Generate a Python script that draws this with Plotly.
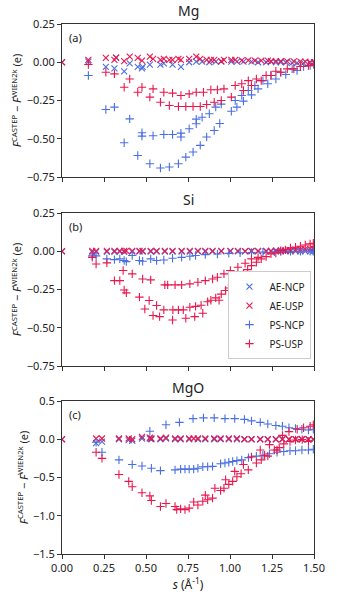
import plotly.graph_objects as go

# ---------------- DATA ----------------
# Mg
mg_aencp_s = [0.0, 0.157, 0.261, 0.312, 0.322, 0.370, 0.403, 0.451, 0.476, 0.480, 0.523, 0.586, 0.606, 0.658, 0.708, 0.757, 0.799, 0.834, 0.877, 0.915, 0.948, 1.008, 1.041, 1.080, 1.128, 1.167, 1.215, 1.244, 1.273, 1.302, 1.332, 1.370, 1.399, 1.438, 1.477, 1.500]
mg_aencp_f = [0.0, 0.004, -0.030, -0.040, 0.030, -0.060, -0.008, -0.030, -0.040, -0.030, -0.015, -0.015, -0.008, -0.015, -0.030, 0.000, 0.004, 0.004, 0.000, 0.004, 0.004, 0.004, 0.004, 0.004, 0.004, 0.000, 0.000, 0.004, 0.000, 0.000, 0.000, -0.004, -0.004, -0.004, -0.004, -0.004]
mg_aeusp_s = [0.0, 0.157, 0.261, 0.312, 0.322, 0.370, 0.403, 0.451, 0.476, 0.523, 0.542, 0.586, 0.606, 0.639, 0.658, 0.693, 0.708, 0.757, 0.799, 0.823, 0.861, 0.886, 0.906, 0.948, 0.964, 1.008, 1.031, 1.070, 1.109, 1.148, 1.186, 1.225, 1.244, 1.273, 1.302, 1.341, 1.380, 1.419, 1.448, 1.477, 1.500]
mg_aeusp_f = [0.0, 0.015, 0.028, 0.015, 0.030, 0.008, 0.037, 0.028, 0.010, 0.037, 0.022, 0.015, 0.022, 0.015, 0.015, 0.022, 0.015, 0.022, 0.037, 0.022, 0.015, 0.015, 0.015, 0.008, 0.015, 0.015, 0.015, 0.012, 0.012, 0.010, 0.010, 0.010, 0.008, 0.008, 0.008, 0.006, 0.006, 0.004, 0.004, 0.000, 0.000]
mg_psncp_s = [0.157, 0.261, 0.312, 0.370, 0.403, 0.451, 0.476, 0.476, 0.523, 0.542, 0.586, 0.606, 0.639, 0.658, 0.693, 0.708, 0.708, 0.737, 0.757, 0.780, 0.799, 0.799, 0.823, 0.834, 0.861, 0.877, 0.906, 0.915, 0.939, 0.948, 1.008, 1.031, 1.041, 1.070, 1.080, 1.109, 1.128, 1.148, 1.167, 1.196, 1.225, 1.244, 1.273, 1.302, 1.332, 1.370, 1.399, 1.438, 1.477, 1.500]
mg_psncp_f = [-0.087, -0.309, -0.293, -0.526, -0.370, -0.609, -0.461, -0.483, -0.663, -0.480, -0.691, -0.472, -0.685, -0.472, -0.663, -0.463, -0.489, -0.620, -0.435, -0.587, -0.402, -0.372, -0.543, -0.359, -0.489, -0.337, -0.446, -0.293, -0.400, -0.274, -0.320, -0.250, -0.293, -0.217, -0.254, -0.185, -0.213, -0.152, -0.174, -0.120, -0.141, -0.087, -0.109, -0.065, -0.080, -0.043, -0.054, -0.028, -0.022, -0.015]
mg_psusp_s = [0.157, 0.261, 0.312, 0.370, 0.403, 0.451, 0.476, 0.523, 0.542, 0.586, 0.606, 0.639, 0.658, 0.693, 0.708, 0.737, 0.757, 0.780, 0.799, 0.823, 0.842, 0.861, 0.886, 0.906, 0.925, 0.948, 0.964, 1.008, 1.031, 1.070, 1.080, 1.109, 1.128, 1.157, 1.186, 1.215, 1.244, 1.273, 1.302, 1.341, 1.380, 1.419, 1.467, 1.500]
mg_psusp_f = [-0.015, -0.065, -0.076, -0.163, -0.109, -0.196, -0.163, -0.228, -0.174, -0.261, -0.196, -0.283, -0.202, -0.289, -0.217, -0.289, -0.207, -0.289, -0.196, -0.289, -0.196, -0.276, -0.180, -0.261, -0.180, -0.250, -0.174, -0.228, -0.152, -0.141, -0.185, -0.120, -0.152, -0.109, -0.120, -0.087, -0.087, -0.059, -0.065, -0.043, -0.043, -0.028, -0.022, -0.015]

# Si
si_aencp_s = [0.0, 0.180, 0.203, 0.267, 0.312, 0.344, 0.370, 0.418, 0.461, 0.480, 0.528, 0.563, 0.612, 0.658, 0.712, 0.761, 0.809, 0.853, 0.896, 0.948, 1.002, 1.047, 1.090, 1.128, 1.167, 1.215, 1.244, 1.273, 1.302, 1.330, 1.360, 1.390, 1.419, 1.448, 1.477, 1.496]
si_aencp_f = [0.0, -0.005, -0.004, -0.004, -0.004, -0.003, -0.004, -0.003, -0.003, -0.003, -0.002, -0.002, -0.002, -0.002, -0.002, -0.002, -0.001, -0.002, -0.002, -0.001, -0.001, -0.001, -0.001, -0.001, 0.000, 0.000, 0.000, 0.000, 0.000, 0.000, 0.000, 0.000, 0.000, 0.000, 0.000, 0.000]
si_aeusp_s = [0.0, 0.180, 0.203, 0.267, 0.312, 0.344, 0.370, 0.383, 0.418, 0.461, 0.480, 0.528, 0.563, 0.612, 0.658, 0.712, 0.761, 0.809, 0.853, 0.896, 0.948, 1.002, 1.047, 1.090, 1.128, 1.167, 1.215, 1.244, 1.273, 1.302, 1.330, 1.360, 1.390, 1.419, 1.448, 1.477, 1.496]
si_aeusp_f = [0.0, 0.002, 0.002, 0.002, 0.002, 0.002, 0.002, 0.002, 0.002, 0.002, 0.003, 0.002, 0.002, 0.003, 0.002, 0.002, 0.002, 0.002, 0.002, 0.002, 0.002, 0.002, 0.002, 0.001, 0.002, 0.002, 0.002, 0.003, 0.004, 0.005, 0.006, 0.008, 0.010, 0.012, 0.014, 0.016, 0.018]
si_psncp_s = [0.180, 0.203, 0.267, 0.312, 0.344, 0.370, 0.383, 0.418, 0.461, 0.480, 0.528, 0.563, 0.606, 0.658, 0.712, 0.761, 0.795, 0.853, 0.925, 0.993, 1.060, 1.128, 1.196, 1.264, 1.302, 1.360, 1.419, 1.477, 1.496]
si_psncp_f = [-0.030, -0.030, -0.050, -0.055, -0.050, -0.060, -0.068, -0.028, -0.060, -0.065, -0.050, -0.060, -0.057, -0.046, -0.040, -0.033, -0.028, -0.022, -0.018, -0.014, -0.010, -0.008, -0.006, -0.004, -0.002, -0.001, 0.000, 0.000, 0.000]
si_psusp_s = [0.180, 0.203, 0.267, 0.312, 0.344, 0.364, 0.370, 0.383, 0.418, 0.461, 0.480, 0.493, 0.519, 0.528, 0.542, 0.563, 0.581, 0.606, 0.612, 0.629, 0.658, 0.660, 0.673, 0.693, 0.712, 0.722, 0.737, 0.761, 0.761, 0.790, 0.795, 0.809, 0.828, 0.838, 0.853, 0.867, 0.886, 0.896, 0.915, 0.925, 0.935, 0.948, 0.964, 0.974, 0.993, 1.002, 1.012, 1.031, 1.047, 1.060, 1.080, 1.090, 1.105, 1.128, 1.128, 1.157, 1.167, 1.186, 1.215, 1.244, 1.273, 1.302, 1.330, 1.360, 1.390, 1.419, 1.448, 1.477, 1.496]
si_psusp_f = [-0.040, -0.083, -0.076, -0.192, -0.192, -0.126, -0.253, -0.272, -0.148, -0.300, -0.181, -0.377, -0.322, -0.187, -0.420, -0.355, -0.427, -0.383, -0.220, -0.220, -0.449, -0.383, -0.220, -0.383, -0.220, -0.383, -0.438, -0.366, -0.213, -0.427, -0.360, -0.203, -0.353, -0.405, -0.192, -0.330, -0.320, -0.181, -0.305, -0.170, -0.320, -0.280, -0.148, -0.257, -0.240, -0.126, -0.220, -0.190, -0.105, -0.170, -0.143, -0.078, -0.120, -0.094, -0.050, -0.072, -0.040, -0.050, -0.035, -0.017, -0.011, 0.004, 0.009, 0.022, 0.026, 0.033, 0.041, 0.048, 0.052]

# MgO
mgo_aencp_s = [0.0, 0.203, 0.238, 0.339, 0.397, 0.418, 0.476, 0.523, 0.532, 0.586, 0.619, 0.673, 0.706, 0.757, 0.809, 0.853, 0.906, 0.944, 0.993, 1.041, 1.086, 1.128, 1.180, 1.225, 1.273, 1.312, 1.351, 1.390, 1.428, 1.467, 1.496]
mgo_aencp_f = [0.0, -0.050, -0.030, 0.000, -0.010, -0.020, 0.010, 0.010, 0.000, 0.000, 0.010, 0.000, 0.000, 0.000, 0.000, 0.000, 0.000, 0.000, 0.000, 0.000, 0.000, 0.000, 0.000, 0.000, 0.000, 0.000, 0.000, 0.000, 0.000, 0.000, 0.000]
mgo_aeusp_s = [0.0, 0.203, 0.238, 0.339, 0.397, 0.418, 0.476, 0.523, 0.532, 0.586, 0.619, 0.673, 0.706, 0.757, 0.784, 0.809, 0.853, 0.906, 0.944, 0.993, 1.041, 1.086, 1.128, 1.180, 1.225, 1.273, 1.312, 1.351, 1.390, 1.428, 1.467, 1.496]
mgo_aeusp_f = [0.0, 0.010, 0.010, 0.010, 0.010, 0.000, 0.030, 0.020, 0.010, 0.010, 0.020, 0.010, 0.010, 0.010, 0.010, 0.010, 0.010, 0.010, 0.010, 0.010, 0.010, 0.000, 0.000, 0.000, 0.000, 0.000, 0.000, 0.000, 0.000, 0.000, 0.000, 0.000]
mgo_psncp_s = [0.203, 0.238, 0.339, 0.418, 0.476, 0.523, 0.532, 0.586, 0.619, 0.673, 0.699, 0.706, 0.732, 0.757, 0.780, 0.784, 0.809, 0.838, 0.842, 0.867, 0.896, 0.906, 0.944, 0.970, 0.970, 0.993, 1.016, 1.028, 1.041, 1.070, 1.086, 1.110, 1.128, 1.157, 1.180, 1.196, 1.225, 1.235, 1.273, 1.280, 1.312, 1.320, 1.351, 1.357, 1.390, 1.390, 1.428, 1.428, 1.467, 1.467, 1.496, 1.496]
mgo_psncp_f = [-0.040, -0.170, -0.270, -0.330, -0.350, 0.105, -0.380, -0.410, 0.190, -0.400, 0.220, -0.390, -0.390, -0.390, 0.270, -0.390, -0.380, -0.360, 0.280, -0.360, -0.355, 0.280, -0.320, 0.270, -0.310, -0.300, -0.290, 0.270, -0.280, -0.270, 0.260, -0.240, 0.240, -0.220, 0.220, -0.210, 0.200, -0.190, 0.180, -0.170, 0.170, -0.160, 0.150, -0.150, 0.140, -0.150, 0.130, -0.140, 0.120, -0.140, 0.130, -0.130]
mgo_psusp_s = [0.203, 0.238, 0.339, 0.397, 0.418, 0.476, 0.523, 0.532, 0.586, 0.619, 0.673, 0.683, 0.706, 0.732, 0.757, 0.784, 0.809, 0.838, 0.853, 0.867, 0.896, 0.910, 0.944, 0.964, 0.974, 0.993, 1.016, 1.028, 1.041, 1.066, 1.080, 1.109, 1.128, 1.157, 1.180, 1.186, 1.206, 1.225, 1.235, 1.264, 1.280, 1.293, 1.312, 1.320, 1.351, 1.357, 1.390, 1.400, 1.430, 1.438, 1.467, 1.477, 1.496]
mgo_psusp_f = [-0.170, -0.250, -0.460, -0.550, -0.620, -0.700, -0.740, -0.800, -0.880, -0.840, -0.880, -0.920, -0.910, -0.920, -0.900, -0.820, -0.860, -0.810, -0.730, -0.790, -0.770, -0.640, -0.670, -0.640, -0.530, -0.590, -0.550, -0.420, -0.490, -0.450, -0.330, -0.400, -0.230, -0.310, -0.140, -0.270, -0.210, -0.220, -0.070, -0.140, -0.140, -0.110, 0.050, -0.060, 0.100, -0.030, -0.010, 0.130, -0.005, 0.150, -0.030, 0.170, 0.190]

panels = [
    ("Mg", "(a)", [mg_aencp_s, mg_aencp_f, mg_aeusp_s, mg_aeusp_f, mg_psncp_s, mg_psncp_f, mg_psusp_s, mg_psusp_f]),
    ("Si", "(b)", [si_aencp_s, si_aencp_f, si_aeusp_s, si_aeusp_f, si_psncp_s, si_psncp_f, si_psusp_s, si_psusp_f]),
    ("MgO", "(c)", [mgo_aencp_s, mgo_aencp_f, mgo_aeusp_s, mgo_aeusp_f, mgo_psncp_s, mgo_psncp_f, mgo_psusp_s, mgo_psusp_f]),
]
series_names = ["AE-NCP", "AE-USP", "PS-NCP", "PS-USP"]
x_ticks = [0.0, 0.25, 0.5, 0.75, 1.0, 1.25, 1.5]
y_ranges = [[-0.75, 0.25], [-0.75, 0.25], [-1.5, 0.5]]
y_ticks = [[0.25, 0.0, -0.25, -0.5, -0.75], [0.25, 0.0, -0.25, -0.5, -0.75], [0.5, 0.0, -0.5, -1.0, -1.5]]
y_fmt = [".2f", ".2f", ".1f"]

# ---------------- STYLE ----------------
BLUE = "#4a6fe3"
RED = "#e8174c"
styles = [("x-thin", BLUE), ("x-thin", RED), ("cross-thin", BLUE), ("cross-thin", RED)]
FONT = "Noto Sans"
AX = "#333333"

W, H = 337, 600
ml, mr, mt, mb = 62, 16, 24, 46
ph = H - mt - mb
tops = [24, 213, 401]
height = 153
domains = []
for t in tops:
    y0 = (H - mb - (t + height)) / ph
    y1 = (H - mb - t) / ph
    domains.append([max(0, y0), min(1, y1)])

fig = go.Figure()
for i, (title, lab, data) in enumerate(panels):
    xa = "x" if i == 2 else f"x{i+2}"
    ya = f"y{'' if i == 0 else i+1}"
    for k in range(4):
        sym, col = styles[k]
        fig.add_trace(go.Scatter(
            x=data[2*k], y=data[2*k+1], mode="markers",
            name=series_names[k], showlegend=(i == 1),
            legendgroup=series_names[k],
            marker=dict(symbol=sym, size=6, color=col, line=dict(width=1.1, color=col)),
            xaxis=xa, yaxis=ya, cliponaxis=True))

layout = dict(
    width=W, height=H,
    margin=dict(l=ml, r=mr, t=mt, b=mb),
    plot_bgcolor="white", paper_bgcolor="white",
    font=dict(family=FONT, size=11, color="#222222"),
    showlegend=True,
    legend=dict(x=0.99, y=domains[1][0] + 0.013, xanchor="right", yanchor="bottom",
                xref="paper", yref="paper",
                bgcolor="white", bordercolor="#cccccc", borderwidth=1,
                font=dict(size=10), itemwidth=30, tracegroupgap=0),
)
ytitle = "<i>F</i><sup>CASTEP</sup> − <i>F</i><sup>WIEN2k</sup> (e)"
axis_common = dict(showgrid=False, zeroline=False, showline=True, mirror=True,
                   linecolor=AX, linewidth=1, tickcolor=AX, tickfont=dict(size=11))
xmap = {2: "xaxis", 0: "xaxis2", 1: "xaxis3"}
ymap = {0: "yaxis", 1: "yaxis2", 2: "yaxis3"}
for i in range(3):
    xname = xmap[i]
    yref = "y" if i == 0 else f"y{i+1}"
    xref_ = "x" if i == 2 else f"x{i+2}"
    if i == 2:
        xd = dict(axis_common, domain=[0, 1], range=[0, 1.5], tickmode="array",
                  tickvals=x_ticks, tickformat=".2f", anchor=yref,
                  ticks="outside", ticklen=4,
                  title=dict(text="<i>s</i> (Å<sup>-1</sup>)", standoff=4, font=dict(size=12)))
    else:
        # upper panels: tick marks only (minor ticks at the same positions), no labels
        xd = dict(axis_common, domain=[0, 1], range=[0, 1.5], anchor=yref,
                  ticks="", showticklabels=False, tickmode="array", tickvals=[],
                  minor=dict(ticks="outside", ticklen=4, tickcolor=AX, tickmode="array",
                             tickvals=x_ticks, showgrid=False))
    layout[xname] = xd
    layout[ymap[i]] = dict(axis_common, domain=domains[i], range=y_ranges[i],
                           tickvals=y_ticks[i], tickformat=y_fmt[i], anchor=xref_,
                           ticks="outside", ticklen=4,
                           title=dict(text=ytitle, standoff=2, font=dict(size=11)))

annotations = []
for i, (title, lab, _) in enumerate(panels):
    d = domains[i]
    annotations.append(dict(text=title, x=0.5, y=d[1], xref="paper", yref="paper",
                            xanchor="center", yanchor="bottom", yshift=2,
                            showarrow=False, font=dict(size=14)))
    annotations.append(dict(text=lab, x=0.02, y=d[1], xref="paper", yref="paper",
                            xanchor="left", yanchor="top", yshift=-4,
                            showarrow=False, font=dict(size=11)))
layout["annotations"] = annotations
fig.update_layout(**layout)
fig.write_html("out.html", config={"displayModeBar": False},
               post_script="document.body.style.margin='0';")
